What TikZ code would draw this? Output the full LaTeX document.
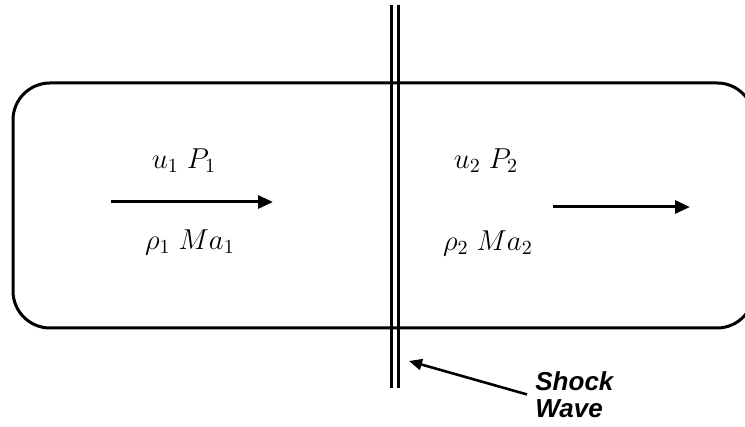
\documentclass[tikz,border=0pt]{standalone}
\usepackage{fontspec}
\newfontfamily\labelfont{Liberation Sans}
\usetikzlibrary{positioning,arrows.meta}

\begin{document}
\begin{tikzpicture}[
  x=0.5pt, y=-0.5pt,
  every node/.style={inner sep=0pt},
  state/.style={font=\fontsize{14}{16}\selectfont},
  flow/.style={line width=1.5pt, -{Triangle[length=7.5pt,width=6.5pt]}},
  wall/.style={line width=1.5pt},
  pointer/.style={line width=1.3pt, -{Triangle[length=6.5pt,width=5.5pt]}}
]
\useasboundingbox (0,0) rectangle (745,427);
\begin{scope}
\clip (0,0) rectangle (745,427);
\draw[wall, rounded corners=18.5pt] (13,83) rectangle (754,328);
\end{scope}

% shock wave
\draw[wall] (391,5) -- (391,388);
\draw[wall] (398.5,5) -- (398.5,388);

% upstream
\node[state] (uone)   at (184,161) {$u_1\;P_1$};
\node[state] (rhoone) at (190,242) {$\rho_1\;Ma_1$};
\coordinate (inA) at (111,202);
\coordinate (inB) at (273,202);
\draw[flow] (inA) -- (inB);

% downstream
\node[state] (utwo)   at (486,161) {$u_2\;P_2$};
\node[state] (rhotwo) at (488,243) {$\rho_2\;Ma_2$};
\coordinate (outA) at (553,207);
\coordinate (outB) at (690,207);
\draw[flow] (outA) -- (outB);

\node[anchor=north west, align=left, inner sep=4pt,
      font=\labelfont\bfseries\itshape\fontsize{13}{13.5}\selectfont]
  (shock) at (527,363) {Shock\\Wave};
\coordinate (tip) at (409,361);
\draw[pointer] (shock.west) -- (tip);
\end{tikzpicture}
\end{document}
